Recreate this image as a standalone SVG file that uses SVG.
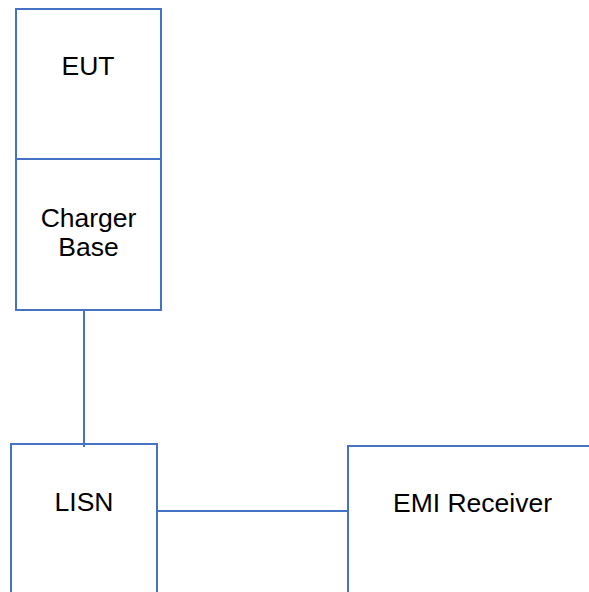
<svg xmlns="http://www.w3.org/2000/svg" width="589" height="592" viewBox="0 0 589 592">
<style>
.box{fill:#fff;stroke:#4472C4;stroke-width:2}
.ln{stroke:#4472C4;stroke-width:2;fill:none}
.t{font-family:"Liberation Sans",Arial,sans-serif;font-size:26.5px;fill:#000;text-anchor:middle}
</style>
<rect width="589" height="592" fill="#fff"/>
<g id="connectors">
<line class="ln" x1="84" y1="310" x2="84" y2="447"/>
<line class="ln" x1="157" y1="511" x2="347" y2="511"/>
</g>
<g id="eut">
<rect class="box" x="16" y="9" width="145" height="150"/>
<text class="t" x="88" y="75">EUT</text>
</g>
<g id="charger">
<rect class="box" x="16" y="159" width="145" height="151"/>
<text class="t" x="88.5" y="227">Charger</text>
<text class="t" x="88.5" y="256">Base</text>
</g>
<g id="lisn">
<path class="ln" d="M11,600 V444 H157 V600"/>
<text class="t" x="84" y="511">LISN</text>
</g>
<g id="emi">
<path class="ln" d="M348,600 V446 H600"/>
<text class="t" x="472.5" y="512">EMI Receiver</text>
</g>
</svg>
